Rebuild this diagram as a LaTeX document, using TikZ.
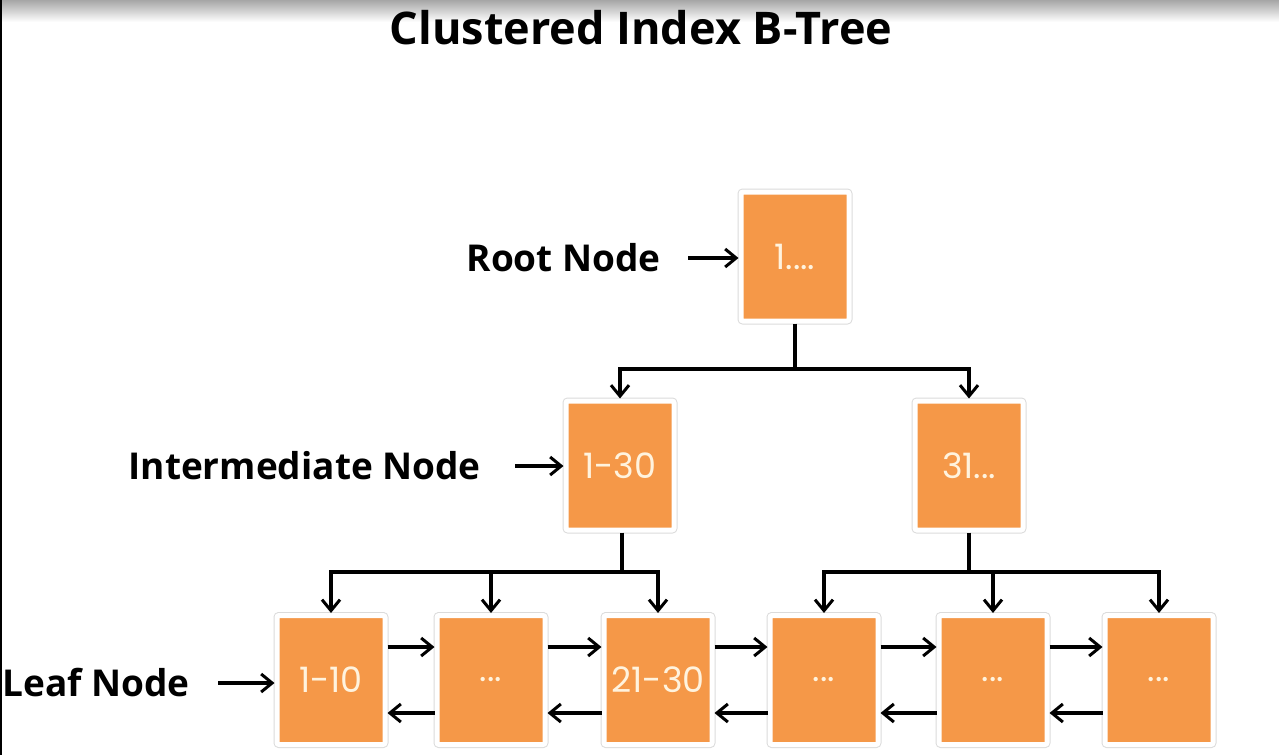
\documentclass[tikz,border=0pt]{standalone}
\usepackage{fontspec}
\setmainfont{Open Sans}
\newfontfamily\boxfont{Poppins}
\usepackage{tikz}
\usetikzlibrary{arrows,arrows.meta,positioning}
\usepackage{xcolor}
\definecolor{boxorange}{RGB}{245,152,72}
\definecolor{boxtext}{RGB}{255,243,222}

\begin{document}
\begin{tikzpicture}[x=1pt,y=-1pt,>={Straight Barb[length=11pt,width=18pt,line width=3pt]}]
\tikzset{
    blk/.style={%
        draw=white, line width=5pt,
        fill=boxorange,
        rectangle,
        rounded corners=2pt,
        minimum height=129pt,
        minimum width=108pt,
        inner sep=0pt,
        font=\boxfont\fontsize{35}{35}\selectfont,
        text=boxtext,
        preaction={draw=black!14, line width=7pt}
        },
    lbl/.style={%
        font=\bfseries\fontsize{37}{37}\selectfont,
        anchor=east,
        inner sep=0pt
        },
    link/.style={->, line width=3.6pt},
    tag/.style={->, line width=3.2pt},
}
\useasboundingbox (0,0) rectangle (1279,755);
%%%BACKGROUND
\shade[top color=black!35, bottom color=white] (0,0) rectangle (1279,22);
\fill[black] (0,0) rectangle (2,755);
\node[font=\bfseries\fontsize{45}{45}\selectfont] (title) at (641,28) {Clustered Index B-Tree};
%%%NODES
\node[blk] (root) at (795,256.5) {1....};
\node[blk] (int1) at (620,465.5) {1-30};
\node[blk] (int2) at (969,465.5) {31...};
\node[blk] (leaf1) at (331,680) {1-10};
\node[blk] (leaf2) at (491,680) {...};
\node[blk] (leaf3) at (658,680) {21-30};
\node[blk] (leaf4) at (824,680) {...};
\node[blk] (leaf5) at (993,680) {...};
\node[blk] (leaf6) at (1159,680) {...};
%%%LABELS
\node[lbl] (rootlbl) at (661,258) {Root Node};
\node[lbl] (intlbl) at (481,466) {Intermediate Node};
\node[lbl] (leaflbl) at (190,683) {Leaf Node};
\draw[tag] ([xshift=27pt]rootlbl.east) -- (rootlbl.east -| root.west);
\draw[tag] ([xshift=34pt]intlbl.east) -- (intlbl.east -| int1.west);
\draw[tag] ([xshift=28pt]leaflbl.east) -- (leaflbl.east -| leaf1.west);
%%%TREE LINKS
\coordinate (rj) at (795,369);
\coordinate (lj) at (622,572);
\coordinate (rj2) at (969,572);
\draw[line width=3.6pt] (root.south) -- (rj);
\draw[link] (rj) -| (int1.north);
\draw[link] (rj) -| (int2.north);
\draw[line width=3.6pt] (int1.south -| lj) -- (lj);
\draw[link] (lj) -| (leaf1.north);
\draw[link] (lj) -| (leaf2.north);
\draw[link] (lj) -| (leaf3.north);
\draw[line width=3.6pt] (int2.south) -- (rj2);
\draw[link] (rj2) -| (leaf4.north);
\draw[link] (rj2) -| (leaf5.north);
\draw[link] (rj2) -| (leaf6.north);
%%%SIBLING LINKS
\foreach \a/\b in {1/2,2/3,3/4,4/5,5/6}{
    \draw[link] ([yshift=33pt]leaf\a.east) -- ([yshift=33pt]leaf\b.west);
    \draw[link] ([yshift=-33pt]leaf\b.west) -- ([yshift=-33pt]leaf\a.east);
}
\end{tikzpicture}
\end{document}
